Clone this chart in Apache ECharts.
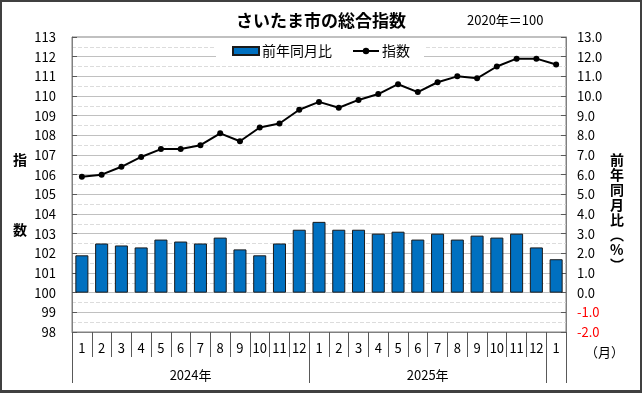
<!DOCTYPE html>
<html><head><meta charset="utf-8">
<script src="https://cdn.jsdelivr.net/npm/echarts@6/dist/echarts.min.js"></script>
<style>
html,body{margin:0;padding:0;background:#fff}
#c{width:642px;height:393px;position:absolute;left:0;top:0}
#f{position:absolute;left:0;top:0;width:642px;height:393px;box-sizing:border-box;border:2px solid #404040;border-bottom-width:3px;pointer-events:none}
</style>
</head><body><div id="c"></div><div id="f"></div>
<script>
// ---- data ----
const months = ['1','2','3','4','5','6','7','8','9','10','11','12',
                '1','2','3','4','5','6','7','8','9','10','11','12','1'];
const years = ['2024年','2025年',''];
const yearSpans = [12,12,1];
const indexValues = [105.9,106.0,106.4,106.9,107.3,107.3,107.5,108.1,107.7,108.4,108.6,109.3,
                     109.7,109.4,109.8,110.1,110.6,110.2,110.7,111.0,110.9,111.5,111.9,111.9,111.6];
const yoyValues = [1.9,2.5,2.4,2.3,2.7,2.6,2.5,2.8,2.2,1.9,2.5,3.2,
                   3.6,3.2,3.2,3.0,3.1,2.7,3.0,2.7,2.9,2.8,3.0,2.3,1.7];
const seriesNames = ['前年同月比','指数'];
const titleText = 'さいたま市の総合指数';
const baseText = '2020年＝100';

// ---- derived year axis positions ----
const yearTicks = [0];
const yearMids = [];
let acc = 0;
yearSpans.forEach((s,i)=>{ if(years[i]) yearMids.push({v:acc+s/2,t:years[i]}); acc+=s; yearTicks.push(acc); });

const FONT = '"Noto Sans CJK JP", sans-serif';
const chart = echarts.init(document.getElementById('c'), null, {renderer:'canvas'});
chart.setOption({
  animation:false,
  textStyle:{fontFamily:FONT},
  title:[
    {text:titleText,left:'center',top:7,textStyle:{fontSize:17,fontWeight:'bold',color:'#000',fontFamily:FONT}},
    {text:baseText,left:462,top:9,textStyle:{fontSize:13,fontWeight:'normal',color:'#000',fontFamily:FONT}}
  ],
  legend:{
    data:[{name:seriesNames[0],icon:'rect'},{name:seriesNames[1]}],
    left:'center',top:41,backgroundColor:'#fff',padding:[3,14,3,16],
    itemGap:20,itemWidth:26,itemHeight:8,
    textStyle:{fontSize:14,color:'#000',fontFamily:FONT,padding:[0,0,0,-2]}
  },
  grid:{left:72,right:76,top:37,bottom:61,show:true,borderColor:'#808080',borderWidth:1,containLabel:false},
  xAxis:[
    {type:'category',data:months,boundaryGap:true,position:'bottom',
     axisLine:{show:true,onZero:false,lineStyle:{color:'#808080'}},
     axisTick:{show:true,interval:0,length:25,lineStyle:{color:'#595959'}},
     axisLabel:{interval:0,fontSize:13,color:'#000',margin:10,fontFamily:FONT},
     splitLine:{show:false}},
    {type:'value',min:0,max:months.length,position:'bottom',offset:25,
     axisLine:{show:false,onZero:false},
     axisTick:{show:true,length:26,customValues:yearTicks,lineStyle:{color:'#595959'}},
     axisLabel:{customValues:yearMids.map(d=>d.v),fontSize:13,color:'#000',margin:12,fontFamily:FONT,
       formatter:(v)=>{const d=yearMids.find(m=>Math.abs(m.v-v)<1e-6);return d?d.t:'';}},
     splitLine:{show:false}}
  ],
  yAxis:[
    {type:'value',min:98,max:113,interval:1,position:'left',
     axisLine:{show:true,onZero:false,lineStyle:{color:'#808080'}},
     axisTick:{show:true,inside:true,length:5,lineStyle:{color:'#595959'}},
     axisLabel:{fontSize:13,color:'#000',margin:16,fontFamily:FONT},
     splitLine:{show:true,lineStyle:{color:'#c0c0c0',width:1}},
     minorTick:{show:false,splitNumber:2},
     minorSplitLine:{show:true,lineStyle:{color:'#dcdcdc',type:'dashed',width:1}}},
    {type:'value',min:-2,max:13,interval:1,position:'right',
     axisLine:{show:true,onZero:false,lineStyle:{color:'#808080'}},
     axisTick:{show:true,inside:true,length:5,lineStyle:{color:'#595959'}},
     axisLabel:{fontSize:13,margin:11,fontFamily:FONT,
       formatter:(v)=>v.toFixed(1),
       color:(v)=>Number(v)<0?'#ff0000':'#000'},
     splitLine:{show:false}}
  ],
  series:[
    {name:seriesNames[0],type:'bar',xAxisIndex:0,yAxisIndex:1,data:yoyValues,barWidth:'66%',
     itemStyle:{color:'#0070C0',borderColor:'#1a1a1a',borderWidth:1},z:2},
    {name:seriesNames[1],type:'line',xAxisIndex:0,yAxisIndex:0,data:indexValues,
     symbol:'circle',symbolSize:6,itemStyle:{color:'#000'},lineStyle:{color:'#000',width:2},z:3}
  ],
  graphic:[
    {type:'text',left:13,top:153,style:{text:'指',font:'bold 14px '+FONT,fill:'#000'}},
    {type:'text',left:13,top:223,style:{text:'数',font:'bold 14px '+FONT,fill:'#000'}},
    {type:'text',left:610,top:152,style:{text:['前','年','同','月','比','︵','%','︶'].join('\n'),
      font:'bold 14px '+FONT,fill:'#000',lineHeight:15,align:'left'}},
    {type:'text',left:585,top:346,style:{text:'（月）',font:'13px '+FONT,fill:'#000'}}
  ]
});
</script>
</body></html>
